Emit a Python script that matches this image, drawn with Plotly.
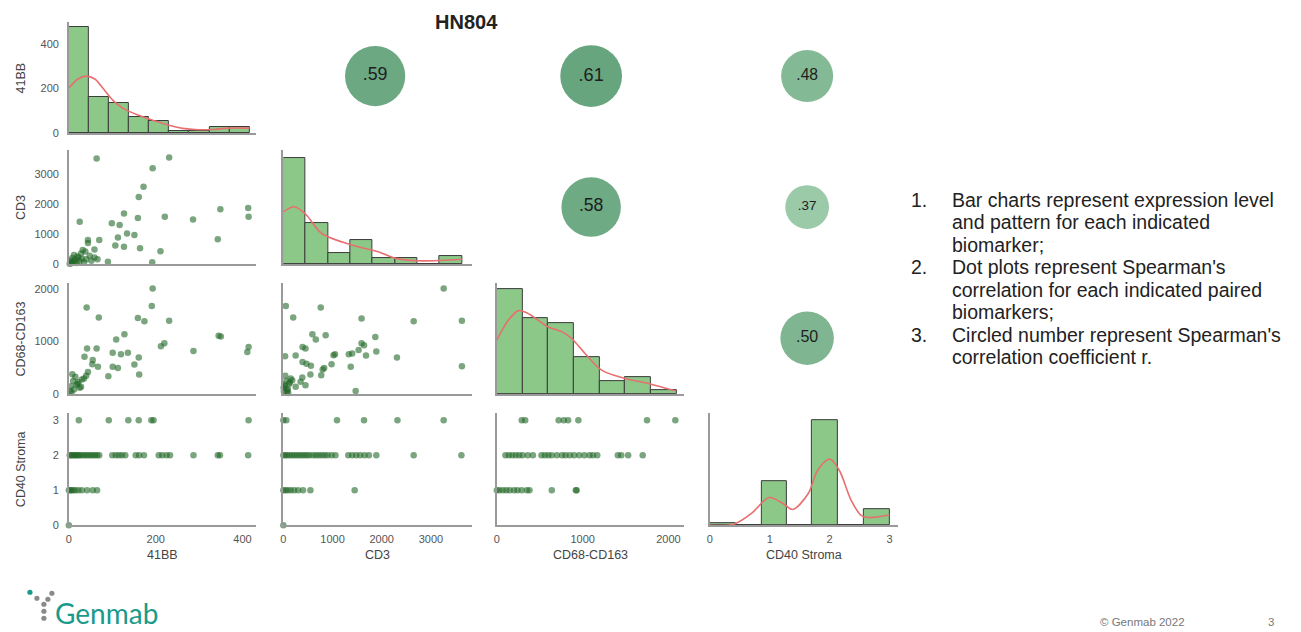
import plotly.graph_objects as go

W, H = 1301, 632
VARS = ["41BB", "CD3", "CD68-CD163", "CD40 Stroma"]

# ---------------- diagonal histograms (bin edges, bar heights) ----------------
edges_41bb = [0, 46, 92, 139, 185, 231, 277, 324, 370, 416]
counts_41bb = [476, 162, 135, 72, 54, 11, 11, 27, 27]
edges_cd3 = [0, 454, 908, 1361, 1815, 2269, 2723, 3176, 3630]
counts_cd3 = [3520, 1360, 360, 800, 190, 190, 0, 270]
edges_cd68 = [0, 299, 598, 897, 1196, 1495, 1794, 2093]
counts_cd68 = [2000, 1440, 1360, 700, 250, 330, 76]
edges_cd40 = [0, 0.43, 0.86, 1.29, 1.71, 2.14, 2.57, 3.0]
counts_cd40 = [0.05, 0, 1.27, 0, 3.0, 0, 0.47]

# ---------------- density curves ----------------
kde_41bb_x = [0, 21, 39, 60, 78, 101, 124, 159, 193, 228, 262, 297, 331, 366, 416]
kde_41bb_y = [202, 243, 256, 243, 202, 148, 112, 81, 58, 36, 21, 15, 16, 22, 22]
kde_cd3_x = [0, 220, 450, 780, 1410, 1930, 2280, 2730, 3200, 3630]
kde_cd3_y = [1740, 1910, 1670, 1020, 630, 410, 190, 110, 120, 160]
kde_cd68_x = [0, 135, 252, 349, 600, 756, 872, 1027, 1221, 1492, 1764, 2076]
kde_cd68_y = [1030, 1410, 1590, 1550, 1280, 1190, 1060, 775, 457, 300, 204, 63]
kde_cd40_x = [0, 0.4, 0.69, 0.99, 1.22, 1.38, 1.64, 1.80, 2.0, 2.16, 2.36, 2.52, 2.64, 3.0]
kde_cd40_y = [0, 0.03, 0.33, 0.79, 0.62, 0.45, 0.9, 1.57, 1.89, 1.57, 0.71, 0.29, 0.22, 0.29]

# ---------------- pairwise scatter data ----------------
s41_cd3_x = [64, 231, 193, 172, 161, 127, 159, 221, 286, 349, 413, 414, 343, 25, 99, 117, 134, 151,
             113, 107, 127, 164, 211, 192, 70, 44, 44, 32, 59, 59, 90, 66,
             3, 5, 8, 10, 12, 15, 18, 20, 25, 28, 30, 35, 38, 2, 6, 14, 22, 40, 48, 52]
s41_cd3_y = [3520, 3550, 3190, 2580, 2240, 1690, 1540, 1580, 1490, 1830, 1870, 1580, 830, 1410, 1360, 1300,
             1020, 970, 890, 620, 580, 530, 430, 60, 800, 800, 700, 470, 490, 220, 80, 160,
             50, 120, 200, 80, 300, 150, 40, 250, 100, 350, 180, 60, 420, 10, 30, 90, 220, 160, 280, 110]

s41_cd68_x = [193, 191, 41, 69, 159, 174, 231, 345, 350, 128, 109, 220, 212, 287, 414, 411, 42, 64,
              101, 120, 136, 161, 151, 101, 113, 162, 91, 36, 55, 54, 67, 44,
              5, 10, 15, 20, 25, 30, 8, 12, 18, 35, 3, 22, 28, 40, 6]
s41_cd68_y = [2010, 1680, 1650, 1460, 1450, 1390, 1400, 1110, 1100, 1140, 1040, 970, 910, 820, 900, 805,
              870, 870, 790, 760, 790, 700, 565, 520, 500, 375, 340, 710, 650, 570, 520, 420,
              150, 250, 330, 200, 120, 280, 380, 90, 180, 300, 60, 230, 140, 350, 30]

s41_cd40_x = [0, 23, 92, 137, 161, 190, 195, 414,
              2, 5, 8, 12, 15, 18, 22, 25, 30, 35, 40, 45, 50, 55, 60, 65, 70,
              100, 108, 115, 122, 130, 154, 162, 173, 207, 215, 225, 233, 287, 343, 348, 413,
              0, 3, 6, 10, 15, 22, 30, 42, 55, 65]
s41_cd40_y = [0, 3, 3, 3, 3, 3, 3, 3,
              2, 2, 2, 2, 2, 2, 2, 2, 2, 2, 2, 2, 2, 2, 2, 2, 2,
              2, 2, 2, 2, 2, 2, 2, 2, 2, 2, 2, 2, 2, 2, 2, 2,
              1, 1, 1, 1, 1, 1, 1, 1, 1, 1]

scd3_cd68_x = [3260, 50, 760, 200, 1590, 2650, 3630, 590, 660, 860, 1870, 1590, 1640, 390, 450, 1530,
               1890, 1400, 1330, 1050, 1020, 1680, 35, 250, 2310, 390, 470, 560, 980, 830, 800, 1370,
               3630, 550, 770, 385, 350, 450, 180, 250, 1470,
               10, 30, 60, 90, 120, 150, 40, 80, 20, 100, 5, 70, 130]
scd3_cd68_y = [2010, 1680, 1650, 1460, 1440, 1390, 1400, 1140, 1040, 1120, 1090, 970, 930, 900, 870, 840,
               810, 775, 760, 760, 740, 735, 720, 735, 700, 610, 580, 540, 570, 500, 470, 520,
               530, 375, 360, 318, 234, 171, 267, 139, 60,
               50, 150, 250, 100, 200, 300, 350, 80, 180, 20, 120, 30, 220]

scd3_cd40_x = [0, 60, 1090, 1640, 2320, 3260,
               0, 40, 80, 130, 180, 230, 280, 330, 380, 430, 480, 530, 600, 660, 720, 780, 840, 900,
               980, 1060, 1320, 1400, 1480, 1560, 1650, 1740, 1890, 2650, 3620,
               0, 40, 90, 150, 220, 300, 400, 550, 1450, 0]
scd3_cd40_y = [3, 3, 3, 3, 3, 3,
               2, 2, 2, 2, 2, 2, 2, 2, 2, 2, 2, 2, 2, 2, 2, 2, 2, 2,
               2, 2, 2, 2, 2, 2, 2, 2, 2, 2, 2,
               1, 1, 1, 1, 1, 1, 1, 1, 1, 0]

scd68_cd40_x = [290, 330, 720, 780, 830, 950, 1750, 2080,
                100, 140, 180, 220, 260, 300, 360, 420, 520, 560, 600, 640, 700, 760, 800, 850, 900,
                960, 1020, 1080, 1120, 1170, 1410, 1450, 1530, 1700,
                0, 30, 70, 110, 150, 200, 240, 290, 350, 380, 640, 920, 930]
scd68_cd40_y = [3, 3, 3, 3, 3, 3, 3, 3,
                2, 2, 2, 2, 2, 2, 2, 2, 2, 2, 2, 2, 2, 2, 2, 2, 2,
                2, 2, 2, 2, 2, 2, 2, 2, 2,
                1, 1, 1, 1, 1, 1, 1, 1, 1, 1, 1, 1, 1]

# ---------------- Spearman coefficients (upper triangle) ----------------
corr_row = ["41BB", "41BB", "41BB", "CD3", "CD3", "CD68-CD163"]
corr_col = ["CD3", "CD68-CD163", "CD40 Stroma", "CD68-CD163", "CD40 Stroma", "CD40 Stroma"]
corr_r = [0.59, 0.61, 0.48, 0.58, 0.37, 0.50]

# tick values
ticks = [[0, 200, 400], [0, 1000, 2000, 3000], [0, 1000, 2000], [0, 1, 2, 3]]

# explanatory notes
note_nums = ["1.", "2.", "3."]
note_lines = ["Bar charts represent expression level", "and pattern for each indicated", "biomarker;",
              "Dot plots represent Spearman's", "correlation for each indicated paired", "biomarkers;",
              "Circled number represent Spearman's", "correlation coefficient r."]

# ---------------- layout geometry (pixels) ----------------
YS = 1.01  # small vertical correction


def py(v):
    return v * YS


col_px = [(66, 254), (281, 470), (495, 683), (708.5, 897)]
row_px = [(22, 133), (150, 264), (283, 394), (413, 525)]
x_ranges = [[0, 432], [0, 3834], [0, 2186], [0, 3.14]]
y_ranges = [[0, 499], [0, 3800], [0, 2114], [0, 3.2]]

BAR_FILL = "#8cc888"
BAR_EDGE = "#3c3c3c"
KDE_COL = "#e76f6f"
DOT_COL = "rgba(35,105,40,0.6)"
AXIS_COL = "#9a9a9a"
FONT = "Liberation Sans, Arial, sans-serif"
TICK_FONT = dict(family=FONT, size=11, color="#555555")

hist = {0: (edges_41bb, counts_41bb, kde_41bb_x, kde_41bb_y),
        1: (edges_cd3, counts_cd3, kde_cd3_x, kde_cd3_y),
        2: (edges_cd68, counts_cd68, kde_cd68_x, kde_cd68_y),
        3: (edges_cd40, counts_cd40, kde_cd40_x, kde_cd40_y)}
scat = {(1, 0): (s41_cd3_x, s41_cd3_y),
        (2, 0): (s41_cd68_x, s41_cd68_y),
        (3, 0): (s41_cd40_x, s41_cd40_y),
        (2, 1): (scd3_cd68_x, scd3_cd68_y),
        (3, 1): (scd3_cd40_x, scd3_cd40_y),
        (3, 2): (scd68_cd40_x, scd68_cd40_y)}

fig = go.Figure()
layout = {}
annotations = []

# correlation circles on a categorical overlay axis (added first so it sits underneath)
layout["xaxis11"] = dict(domain=[48.25 / W, 914.25 / W], type="category", categoryarray=VARS,
                         range=[-0.5, 3.5], visible=False, anchor="y11")
layout["yaxis11"] = dict(domain=[1 - py(534.5) / H, 1 - py(10.5) / H], type="category",
                         categoryarray=VARS, range=[3.5, -0.5], visible=False, anchor="x11")
fig.add_trace(go.Scatter(
    x=corr_col, y=corr_row, xaxis="x11", yaxis="y11", mode="markers+text",
    text=[f"{v:.2f}".lstrip("0") for v in corr_r],
    textposition="middle center",
    textfont=dict(family=FONT, color="#1e1e1e", size=[6 + 20 * v for v in corr_r]),
    marker=dict(size=[16 + 75 * v for v in corr_r], color=corr_r, cmin=0.25, cmax=0.65,
                colorscale=[[0, "#b3dcbd"], [1, "#5f9f77"]], line=dict(width=0), opacity=1),
    showlegend=False, hoverinfo="skip", cliponaxis=False))

k = 0
for r in range(4):
    for c in range(r + 1):
        k += 1
        xa = "xaxis" if k == 1 else f"xaxis{k}"
        ya = "yaxis" if k == 1 else f"yaxis{k}"
        xr = "x" if k == 1 else f"x{k}"
        yr = "y" if k == 1 else f"y{k}"
        l, rr = col_px[c]
        t, b = row_px[r]
        layout[xa] = dict(domain=[l / W, rr / W], range=x_ranges[c], anchor=yr,
                          showgrid=False, zeroline=False, showline=True, linecolor=AXIS_COL,
                          linewidth=1.5, ticks="", tickvals=ticks[c],
                          showticklabels=(r == 3), tickfont=TICK_FONT, ticklabelstandoff=3)
        layout[ya] = dict(domain=[1 - py(b) / H, 1 - py(t) / H], range=y_ranges[r], anchor=xr,
                          showgrid=False, zeroline=False, showline=True, linecolor=AXIS_COL,
                          linewidth=1.5, ticks="", tickvals=ticks[r],
                          showticklabels=(c == 0), tickfont=TICK_FONT, ticklabelstandoff=6)
        if r == c:
            edges, counts, kx, ky = hist[r]
            centers = [(edges[i] + edges[i + 1]) / 2 for i in range(len(counts))]
            widths = [edges[i + 1] - edges[i] for i in range(len(counts))]
            fig.add_trace(go.Bar(x=centers, y=counts, width=widths, xaxis=xr, yaxis=yr,
                                 marker=dict(color=BAR_FILL, line=dict(color=BAR_EDGE, width=1)),
                                 showlegend=False, hoverinfo="skip"))
            fig.add_trace(go.Scatter(x=kx, y=ky, mode="lines", xaxis=xr, yaxis=yr,
                                     line=dict(color=KDE_COL, width=1.6, shape="spline", smoothing=0.9),
                                     showlegend=False, hoverinfo="skip", cliponaxis=False))
        else:
            sx, sy = scat[(r, c)]
            fig.add_trace(go.Scatter(x=sx, y=sy, mode="markers", xaxis=xr, yaxis=yr,
                                     marker=dict(color=DOT_COL, size=6.5, line=dict(width=0)),
                                     showlegend=False, cliponaxis=False))
        if r == 3:
            annotations.append(dict(text=VARS[c], xref=f"{xr} domain", x=0.5, yref="paper",
                                    y=1 - py(555) / H, xanchor="center", yanchor="middle",
                                    showarrow=False, font=dict(family=FONT, size=12.5, color="#444444")))
        if c == 0:
            annotations.append(dict(text=VARS[r], xref="paper", x=18 / W, yref=f"{yr} domain", y=0.5,
                                    xanchor="center", yanchor="middle", textangle=-90, showarrow=False,
                                    font=dict(family=FONT, size=12.5, color="#444444")))

# title
annotations.append(dict(text="<b>HN804</b>", xref="paper", yref="paper", x=465 / W, y=1 - py(22) / H,
                        xanchor="center", yanchor="middle", showarrow=False,
                        font=dict(family=FONT, size=20, color="#222222")))

# explanatory list, one annotation per line
NOTE_FONT = dict(family=FONT, size=19.5, color="#222222")
for i, line in enumerate(note_lines):
    yc = 200 + 22.4 * i
    annotations.append(dict(text=line, xref="paper", yref="paper", x=949 / W, y=1 - py(yc) / H,
                            xanchor="left", yanchor="middle", showarrow=False, font=NOTE_FONT))
for j, num in enumerate(note_nums):
    yc = 200 + 22.4 * 3 * j
    annotations.append(dict(text=num, xref="paper", yref="paper", x=908 / W, y=1 - py(yc) / H,
                            xanchor="left", yanchor="middle", showarrow=False, font=NOTE_FONT))

# logo + footer
annotations.append(dict(text="Genmab", xref="paper", yref="paper", x=50 / W, y=1 - py(613) / H,
                        xanchor="left", yanchor="middle", showarrow=False,
                        font=dict(family="Lato, sans-serif", size=28, color="#1b9a8b")))
annotations.append(dict(text="© Genmab 2022", xref="paper", yref="paper", x=1142 / W, y=1 - py(622) / H,
                        xanchor="center", yanchor="middle", showarrow=False,
                        font=dict(family=FONT, size=11.5, color="#777777")))
annotations.append(dict(text="3", xref="paper", yref="paper", x=1271 / W, y=1 - py(622) / H,
                        xanchor="center", yanchor="middle", showarrow=False,
                        font=dict(family=FONT, size=11.5, color="#777777")))

shapes = []
logo_dots = [(27, 592, "#1b9a8b"), (34, 598, "#8a8a8a"), (41, 604, "#8a8a8a"), (49, 593, "#8a8a8a"),
             (45, 599, "#8a8a8a"), (41, 611, "#8a8a8a"), (41, 618, "#8a8a8a")]
for px, pyy, col in logo_dots:
    shapes.append(dict(type="circle", xref="paper", yref="paper", x0=(px - 2.6) / W, x1=(px + 2.6) / W,
                       y0=1 - (py(pyy) + 2.6) / H, y1=1 - (py(pyy) - 2.6) / H, fillcolor=col,
                       line=dict(width=0)))

fig.update_layout(width=W, height=H, margin=dict(l=0, r=0, t=0, b=0), paper_bgcolor="white",
                  plot_bgcolor="rgba(0,0,0,0)", barmode="overlay", bargap=0, annotations=annotations,
                  shapes=shapes, **layout)
fig.write_html("out.html")
